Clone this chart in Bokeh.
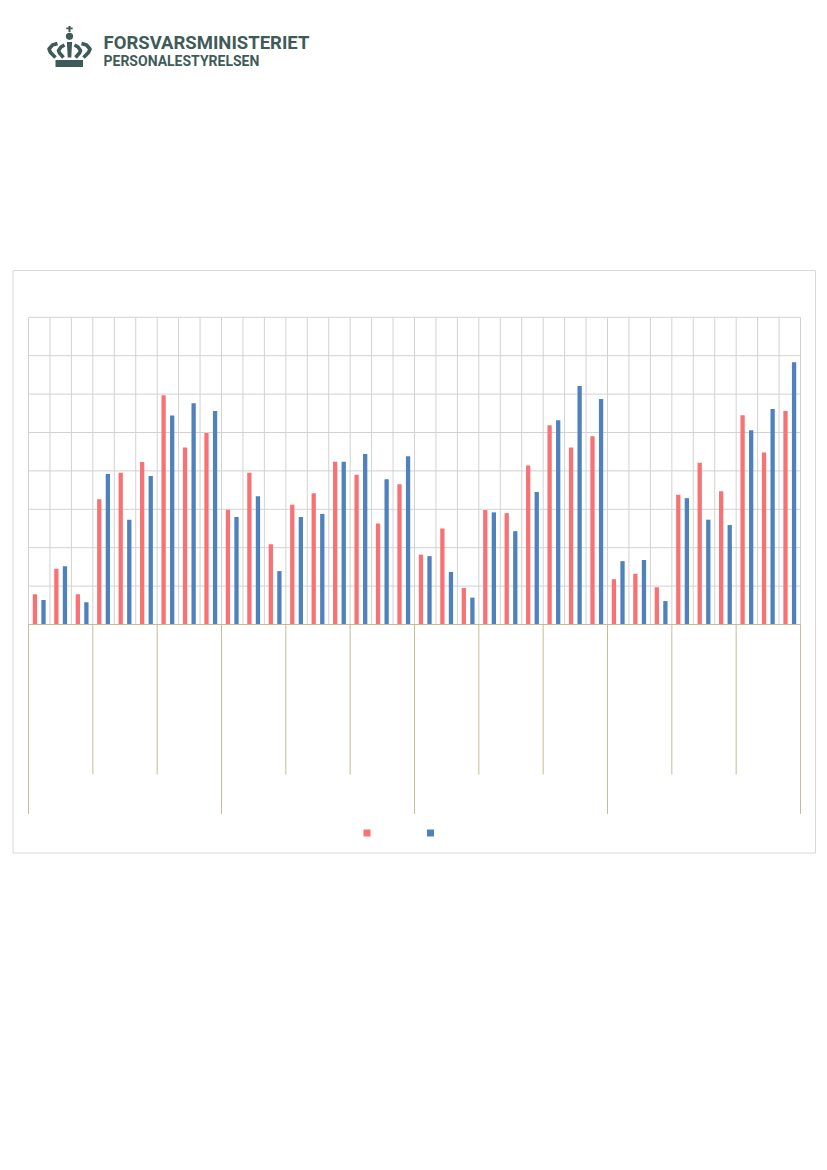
from bokeh.plotting import figure
from bokeh.embed import file_html
from bokeh.resources import INLINE
from bokeh.models import Range1d
from bokeh.core.properties import value

# ---- chart data (axis labels are invisible in the reference) ----
series_a = [7.9, 14.5, 7.9, 32.6, 39.5, 42.3, 59.7, 46.1, 49.9, 29.9, 39.5, 20.9,
            31.2, 34.2, 42.4, 39.0, 26.3, 36.5, 18.2, 25.0, 9.5, 29.8, 29.0, 41.4,
            51.9, 46.1, 49.0, 11.8, 13.2, 9.7, 33.8, 42.1, 34.7, 54.5, 44.8, 55.6]
series_b = [6.4, 15.2, 5.8, 39.2, 27.3, 38.7, 54.4, 57.6, 55.6, 28.0, 33.4, 13.9,
            28.0, 28.8, 42.4, 44.4, 37.8, 43.8, 17.8, 13.7, 7.0, 29.2, 24.3, 34.5,
            53.2, 62.1, 58.7, 16.5, 16.8, 6.1, 32.9, 27.3, 25.9, 50.6, 56.1, 68.3]
y_ticks = [0, 10, 20, 30, 40, 50, 60, 70, 80]
quarter_every = 3
year_every = 9

RED, BLUE = "#F87274", "#4F81BD"
GRID, GOLD, INK = "#D2D2D2", "#C4BD97", "#3F5B59"

# ---- layout in page pixels ----
W, H = 819, 870
OX, OY = 0, 0
PLOT_L, PLOT_R = 28.0, 800.0
BASE_Y, TOP_Y = 624.0, 316.8
n = len(series_a)
sx = (PLOT_R - PLOT_L) / n
sy = (BASE_Y - TOP_Y) / y_ticks[-1]

x_range = Range1d(-(PLOT_L - OX) / sx, (W + OX - PLOT_L) / sx)
y_range = Range1d(-(H + OY - BASE_Y) / sy, (BASE_Y - OY) / sy)

p = figure(width=W, height=H, x_range=x_range, y_range=y_range, output_backend="svg",
           toolbar_location=None, min_border=0, outline_line_color=None,
           x_axis_location=None, y_axis_location=None)
p.grid.visible = False
p.background_fill_color = "white"
p.extra_x_ranges["px"] = Range1d(OX, OX + W)
p.extra_y_ranges["px"] = Range1d(OY + H, OY)
PX = dict(x_range_name="px", y_range_name="px")

# chart border
p.quad(left=12.5, right=815, top=270, bottom=852.5, fill_color=None,
       line_color="#D8D8D8", line_width=1, **PX)

# gridlines
p.segment(x0=[0] * len(y_ticks), x1=[n] * len(y_ticks), y0=y_ticks, y1=y_ticks,
          line_color=GRID, line_width=1)
p.segment(x0=list(range(n + 1)), x1=list(range(n + 1)), y0=[0] * (n + 1),
          y1=[y_ticks[-1]] * (n + 1), line_color=GRID, line_width=1)

# bars
xs = [i + 0.5 for i in range(n)]
p.vbar(x=[v - 0.2 for v in xs], top=series_a, bottom=0, width=0.2, fill_color=RED, line_color=None)
p.vbar(x=[v + 0.2 for v in xs], top=series_b, bottom=0, width=0.2, fill_color=BLUE, line_color=None)

# multi-level category separators (their labels are invisible in the reference)
p.segment(x0=[0], x1=[n], y0=[0], y1=[0], line_color=GOLD, line_width=1)
q = list(range(0, n + 1, quarter_every))
p.segment(x0=q, x1=q, y0=[0] * len(q), y1=[-150 / sy] * len(q), line_color=GOLD, line_width=1)
ys = list(range(0, n + 1, year_every))
p.segment(x0=ys, x1=ys, y0=[0] * len(ys), y1=[-189.5 / sy] * len(ys), line_color=GOLD, line_width=1)

# legend markers
p.quad(left=[363, 426.5], right=[370, 433.5], top=[829, 829], bottom=[836, 836],
       fill_color=[RED, BLUE], line_color=None, **PX)

# logo
p.quad(left=55, right=82.5, top=59.5, bottom=66.5, fill_color=INK, line_color=None, **PX)
p.patch(x=[66.4, 71.6, 70.8, 67.2], y=[41.5, 41.5, 57, 57], fill_color=INK, line_color=None, **PX)
p.circle(x=[69], y=[35.8], radius=3.6, fill_color=INK, line_color=None, **PX)
p.quad(left=[68, 65.8], right=[70, 72.2], top=[25.5, 27], bottom=[31.5, 28.8],
       fill_color=INK, line_color=None, **PX)
left_x = [[57, 52, 48.5, 50, 55], [64, 60.5, 58, 59, 63]]
left_y = [[43, 44.5, 48.5, 52, 57], [44.5, 46.5, 50, 52.5, 57]]
p.multi_line(xs=left_x + [[138 - v for v in l] for l in left_x], ys=left_y + left_y,
             line_color=INK, line_width=3.6, line_join="round", **PX)
p.text(x=[103], y=[42.5], text=["FORSVARSMINISTERIET"], text_font=value("Roboto"),
       text_font_style="bold", text_font_size="18.5px", text_color=INK,
       text_align="left", text_baseline="alphabetic", **PX)
p.text(x=[103], y=[60], text=["PERSONALESTYRELSEN"], text_font=value("Roboto"),
       text_font_style="bold", text_font_size="14px", text_color=INK,
       text_align="left", text_baseline="alphabetic", **PX)

open("out.html", "w").write(file_html(p, INLINE))
